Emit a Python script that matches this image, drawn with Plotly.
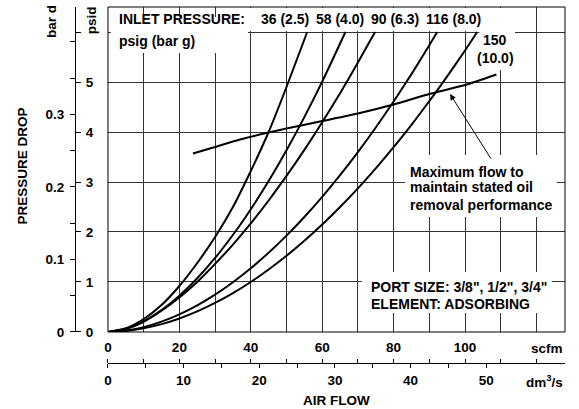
import plotly.graph_objects as go

# ---- data ----
# x: air flow in scfm, y: pressure drop in psid
A_flow = [0, 5, 10, 15, 20, 25, 30, 35, 40, 45, 50, 55.8]          # 36 psig (2.5 bar g)
A_psid = [0, 0.075, 0.26, 0.54, 0.92, 1.38, 1.90, 2.50, 3.22, 4.0, 4.9, 6.0]

B_flow = [0, 5, 10, 15, 20, 25, 30, 36.5, 40, 45, 50, 55, 60, 66.5]   # 58 psig (4.0 bar g)
B_psid = [0, 0.063, 0.215, 0.438, 0.726, 1.074, 1.48, 2.09, 2.455, 3.02, 3.634, 4.297, 5.007, 6.0]

C_flow = [0, 5, 10, 15, 20, 25, 30, 35, 40, 45, 50, 55, 60, 65, 70, 74.8]   # 90 psig (6.3 bar g)
C_psid = [0, 0.06, 0.205, 0.425, 0.69, 1.0, 1.362, 1.749, 2.172, 2.63, 3.121, 3.642, 4.195, 4.777, 5.388, 6.0]

D_flow = [0, 5, 10, 15, 20, 25, 30, 35, 40, 45, 50, 55, 60, 65, 70, 75, 80, 85, 90, 92.2]   # 116 psig
D_psid = [0, 0.027, 0.097, 0.207, 0.352, 0.533, 0.747, 0.995, 1.274, 1.586, 1.928, 2.301,
          2.704, 3.137, 3.598, 4.09, 4.61, 5.158, 5.736, 6.0]

E_flow = [0, 5, 10, 15, 20, 25, 30, 35, 40, 45, 50, 55, 60, 65, 70, 75, 80, 85, 90, 95, 100, 103.4]  # 150 psig
E_psid = [0, 0.02, 0.073, 0.157, 0.271, 0.412, 0.581, 0.777, 1.0, 1.249, 1.523, 1.823, 2.148,
          2.499, 2.873, 3.273, 3.696, 4.144, 4.616, 5.111, 5.63, 6.0]

MAX_flow = [23.8, 30, 37, 45, 50, 60, 70, 80, 90, 100, 108.8]      # maximum flow line
MAX_psid = [3.57, 3.70, 3.85, 3.99, 4.07, 4.22, 4.37, 4.55, 4.76, 4.94, 5.15]

curve_labels = ["36 (2.5)", "58 (4.0)", "90 (6.3)", "116 (8.0)"]
curve_label_x = [49.5, 65.0, 80.4, 96.7]

scfm_ticks = [0, 10, 20, 30, 40, 50, 60, 70, 80, 90, 100, 110, 120]
scfm_text = ["0", "", "20", "", "40", "", "60", "", "80", "", "100", "", ""]
dm3_ticks = [0, 5, 10, 15, 20, 25, 30, 35, 40, 45, 50]
dm3_text = ["0", "", "10", "", "20", "", "30", "", "40", "", "50"]
psid_ticks = [0, 1, 2, 3, 4, 5, 6]
psid_text = ["0", "1", "2", "3", "4", "5", ""]
bar_ticks = [0, 0.05, 0.1, 0.15, 0.2, 0.25, 0.3, 0.35, 0.4]
bar_text = ["0", "", "0.1", "", "0.2", "", "0.3", "", ""]

PSI_PER_BAR = 14.5038
SCFM_PER_DM3S = 2.11888
X_MAX = 128
Y_MAX = 6.5

FONT = "Liberation Sans, Arial, sans-serif"

fig = go.Figure()
for fx, fy in [(A_flow, A_psid), (B_flow, B_psid), (C_flow, C_psid), (D_flow, D_psid),
               (E_flow, E_psid), (MAX_flow, MAX_psid)]:
    fig.add_trace(go.Scatter(x=fx, y=fy, mode="lines",
                             line=dict(color="black", width=2, shape="spline", smoothing=0.6),
                             hoverinfo="skip", showlegend=False, xaxis="x", yaxis="y"))
# invisible trace to activate secondary axes
fig.add_trace(go.Scatter(x=[0], y=[0], mode="markers", marker=dict(opacity=0),
                         hoverinfo="skip", showlegend=False, xaxis="x2", yaxis="y2"))

XDOM = [0.0673, 1]
YDOM = [0.0871, 1]
grid = "#333333"
tickfont = dict(family=FONT, size=13.5, color="black", weight="bold")

fig.update_layout(
    width=579, height=409,
    margin=dict(l=75, r=14, t=7, b=46),
    paper_bgcolor="white", plot_bgcolor="white",
    font=dict(family=FONT, size=14, color="black", weight="bold"),
    xaxis=dict(domain=XDOM, range=[0, X_MAX], anchor="free", position=0, side="top",
               tickmode="array", tickvals=scfm_ticks, ticktext=scfm_text,
               ticks="outside", ticklen=4, tickwidth=1, tickcolor="black",
               showline=True, linecolor="black", linewidth=1,
               showgrid=True, gridcolor=grid, gridwidth=1, zeroline=False,
               tickfont=tickfont, ticklabelstandoff=2, fixedrange=True),
    xaxis2=dict(domain=XDOM, overlaying="x", range=[0, X_MAX / SCFM_PER_DM3S], anchor="free",
                position=0, side="bottom", tickmode="array", tickvals=dm3_ticks, ticktext=dm3_text,
                ticks="outside", ticklen=4, tickwidth=1, tickcolor="black",
                showline=True, linecolor="black", linewidth=1,
                showgrid=False, zeroline=False, tickfont=tickfont, ticklabelstandoff=1,
                fixedrange=True),
    yaxis=dict(domain=YDOM, range=[0, Y_MAX], anchor="free", position=0, side="right",
               tickmode="array", tickvals=psid_ticks, ticktext=psid_text,
               ticks="outside", ticklen=5, tickwidth=1, tickcolor="black",
               showline=True, linecolor="black", linewidth=1,
               showgrid=True, gridcolor=grid, gridwidth=1, zeroline=False,
               tickfont=tickfont, ticklabelstandoff=2, fixedrange=True),
    yaxis2=dict(domain=YDOM, overlaying="y", range=[0, Y_MAX / PSI_PER_BAR], anchor="free",
                position=0, side="left", tickmode="array", tickvals=bar_ticks, ticktext=bar_text,
                ticks="outside", ticklen=5, tickwidth=1, tickcolor="black",
                showline=True, linecolor="black", linewidth=1,
                showgrid=False, zeroline=False, tickfont=tickfont, ticklabelstandoff=3,
                fixedrange=True),
)

# white label backgrounds
boxes = [
    (0.8, 39.2, 5.58, 6.3),
    (39.2, 104.0, 6.02, 6.48),
    (104.0, 114.0, 5.24, 6.48),
    (83.2, 125.7, 2.3, 3.54),
    (71.1, 124.3, 0.38, 1.2),
]
shapes = []
for x0, x1, y0, y1 in boxes:
    shapes.append(dict(type="rect", xref="x", yref="y", x0=x0, x1=x1, y0=y0, y1=y1,
                       fillcolor="white", line=dict(width=0), layer="above"))
shapes.append(dict(type="rect", xref="x domain", yref="y domain", x0=0, x1=1, y0=0, y1=1,
                   line=dict(color="black", width=1), fillcolor="rgba(0,0,0,0)", layer="above"))
fig.update_layout(shapes=shapes)

ann = []
def txt(x, y, s, xanchor="left", xref="x", yref="y", angle=0, size=14):
    ann.append(dict(x=x, y=y, xref=xref, yref=yref, text=s, showarrow=False,
                    xanchor=xanchor, yanchor="middle", textangle=angle,
                    font=dict(family=FONT, size=size, color="black", weight="bold")))

txt(2.52, 6.26, "INLET PRESSURE:")
txt(2.52, 5.83, "psig (bar g)")
for lab, lx in zip(curve_labels, curve_label_x):
    txt(lx, 6.26, lab, xanchor="center")
txt(108.5, 5.84, "150", xanchor="center")
txt(108.5, 5.48, "(10.0)", xanchor="center")
txt(84.1, 3.206, "Maximum flow to")
txt(84.1, 2.894, "maintain stated oil")
txt(84.1, 2.54, "removal performance")
txt(73.1, 0.906, "PORT SIZE: 3/8\", 1/2\", 3/4\"")
txt(73.1, 0.56, "ELEMENT: ADSORBING")

# axis unit / title labels (paper coords)
txt(0.963, 0.0421, "scfm", xanchor="center", xref="paper", yref="paper", size=13.5)
txt(0.959, -0.0506, "dm<sup>3</sup>/s", xanchor="center", xref="paper", yref="paper", size=13.5)
txt(0.534, -0.104, "AIR FLOW", xanchor="center", xref="paper", yref="paper", size=13.5)
txt(-0.0469, 0.958, "bar d", xanchor="center", xref="paper", yref="paper", angle=-90, size=13.5)
txt(0.0327, 0.963, "psid", xanchor="center", xref="paper", yref="paper", angle=-90, size=13.5)
txt(-0.108, 0.552, "PRESSURE DROP", xanchor="center", xref="paper", yref="paper", angle=-90, size=13.5)

# arrow
ann.append(dict(x=95.8, y=4.76, xref="x", yref="y", ax=107.5, ay=3.44, axref="x", ayref="y",
                text="", showarrow=True, arrowhead=2, arrowsize=1.2, arrowwidth=1,
                arrowcolor="black", standoff=0))
fig.update_layout(annotations=ann)

fig.write_html("out.html", config={"displayModeBar": False},
               post_script="document.body.style.margin='0px';document.body.style.overflow='hidden';")
